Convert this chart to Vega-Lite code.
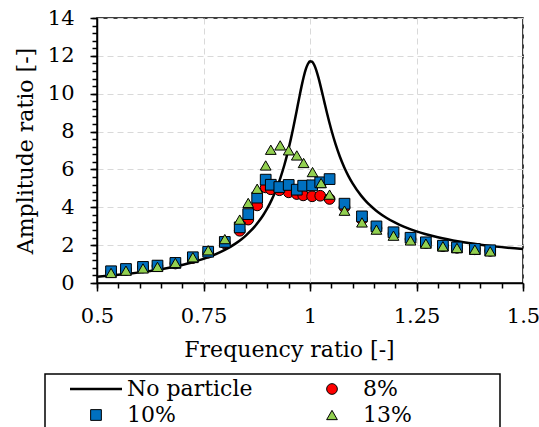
{
  "$schema": "https://vega.github.io/schema/vega-lite/v6.json",
  "width": 426,
  "height": 265,
  "autosize": {"type": "none"},
  "padding": {"left": 97, "top": 18, "right": 16, "bottom": 144},
  "background": "white",
  "config": {
    "font": "DejaVu Serif",
    "view": {"stroke": "black", "strokeWidth": 1.5},
    "axis": {
      "labelFont": "DejaVu Serif",
      "titleFont": "DejaVu Serif",
      "labelFontSize": 21,
      "titleFontSize": 22,
      "labelColor": "black",
      "titleColor": "black",
      "titleFontWeight": "normal",
      "domainColor": "black",
      "domainWidth": 1.5,
      "tickColor": "black",
      "tickWidth": 1.5,
      "gridColor": "#d9d9d9",
      "gridDash": [6, 4],
      "gridWidth": 1
    },
    "legend": {"strokeColor": "black", "strokeWidth": 1.5}
  },
  "datasets": {
    "curve": [
      {"x": 0.5, "y": 0.333}, {"x": 0.525, "y": 0.38}, {"x": 0.55, "y": 0.433}, {"x": 0.575, "y": 0.493},
      {"x": 0.6, "y": 0.561}, {"x": 0.625, "y": 0.639}, {"x": 0.65, "y": 0.728}, {"x": 0.675, "y": 0.832},
      {"x": 0.7, "y": 0.954}, {"x": 0.725, "y": 1.099}, {"x": 0.75, "y": 1.272}, {"x": 0.775, "y": 1.484},
      {"x": 0.8, "y": 1.747}, {"x": 0.825, "y": 2.081}, {"x": 0.84, "y": 2.329}, {"x": 0.85, "y": 2.518},
      {"x": 0.86, "y": 2.734}, {"x": 0.87, "y": 2.978}, {"x": 0.88, "y": 3.257}, {"x": 0.89, "y": 3.578},
      {"x": 0.9, "y": 3.952}, {"x": 0.91, "y": 4.39}, {"x": 0.92, "y": 4.906}, {"x": 0.93, "y": 5.519},
      {"x": 0.94, "y": 6.249}, {"x": 0.945, "y": 6.664}, {"x": 0.95, "y": 7.115}, {"x": 0.955, "y": 7.602},
      {"x": 0.96, "y": 8.122}, {"x": 0.965, "y": 8.676}, {"x": 0.97, "y": 9.249}, {"x": 0.975, "y": 9.82},
      {"x": 0.98, "y": 10.374}, {"x": 0.985, "y": 10.872}, {"x": 0.99, "y": 11.28}, {"x": 0.995, "y": 11.571},
      {"x": 1.0, "y": 11.71}, {"x": 1.005, "y": 11.689}, {"x": 1.01, "y": 11.52}, {"x": 1.015, "y": 11.223},
      {"x": 1.02, "y": 10.835}, {"x": 1.025, "y": 10.39}, {"x": 1.03, "y": 9.915}, {"x": 1.035, "y": 9.437},
      {"x": 1.04, "y": 8.968}, {"x": 1.045, "y": 8.519}, {"x": 1.05, "y": 8.095}, {"x": 1.06, "y": 7.334},
      {"x": 1.07, "y": 6.683}, {"x": 1.08, "y": 6.13}, {"x": 1.09, "y": 5.661}, {"x": 1.1, "y": 5.26},
      {"x": 1.12, "y": 4.615}, {"x": 1.13, "y": 4.355}, {"x": 1.14, "y": 4.125}, {"x": 1.15, "y": 3.923},
      {"x": 1.16, "y": 3.743}, {"x": 1.18, "y": 3.437}, {"x": 1.2, "y": 3.187}, {"x": 1.22, "y": 2.98},
      {"x": 1.25, "y": 2.729}, {"x": 1.27, "y": 2.591}, {"x": 1.3, "y": 2.418}, {"x": 1.35, "y": 2.194},
      {"x": 1.4, "y": 2.026}, {"x": 1.45, "y": 1.895}, {"x": 1.5, "y": 1.791}
    ],
    "pts": [
      {"series": "8%", "x": 0.533, "y": 0.58}, {"series": "8%", "x": 0.568, "y": 0.7}, {"series": "8%", "x": 0.608, "y": 0.82},
      {"series": "8%", "x": 0.642, "y": 0.9}, {"series": "8%", "x": 0.684, "y": 1.03}, {"series": "8%", "x": 0.725, "y": 1.32},
      {"series": "8%", "x": 0.761, "y": 1.6}, {"series": "8%", "x": 0.8, "y": 2.1}, {"series": "8%", "x": 0.835, "y": 2.76},
      {"series": "8%", "x": 0.855, "y": 3.35}, {"series": "8%", "x": 0.876, "y": 4.1}, {"series": "8%", "x": 0.896, "y": 5.05},
      {"series": "8%", "x": 0.908, "y": 4.95}, {"series": "8%", "x": 0.928, "y": 4.9}, {"series": "8%", "x": 0.95, "y": 4.79},
      {"series": "8%", "x": 0.969, "y": 4.7}, {"series": "8%", "x": 0.984, "y": 4.63}, {"series": "8%", "x": 1.005, "y": 4.58},
      {"series": "8%", "x": 1.024, "y": 4.61}, {"series": "8%", "x": 1.046, "y": 4.44}, {"series": "8%", "x": 1.081, "y": 4.0},
      {"series": "8%", "x": 1.122, "y": 3.36}, {"series": "8%", "x": 1.156, "y": 2.9}, {"series": "8%", "x": 1.196, "y": 2.6},
      {"series": "8%", "x": 1.236, "y": 2.32}, {"series": "8%", "x": 1.272, "y": 2.12}, {"series": "8%", "x": 1.312, "y": 1.95},
      {"series": "8%", "x": 1.345, "y": 1.86}, {"series": "8%", "x": 1.387, "y": 1.78}, {"series": "8%", "x": 1.423, "y": 1.7},
      {"series": "10%", "x": 0.533, "y": 0.62}, {"series": "10%", "x": 0.568, "y": 0.74}, {"series": "10%", "x": 0.608, "y": 0.85},
      {"series": "10%", "x": 0.642, "y": 0.92}, {"series": "10%", "x": 0.684, "y": 1.06}, {"series": "10%", "x": 0.725, "y": 1.36},
      {"series": "10%", "x": 0.761, "y": 1.65}, {"series": "10%", "x": 0.8, "y": 2.17}, {"series": "10%", "x": 0.835, "y": 2.94},
      {"series": "10%", "x": 0.855, "y": 3.64}, {"series": "10%", "x": 0.876, "y": 4.51}, {"series": "10%", "x": 0.896, "y": 5.46},
      {"series": "10%", "x": 0.908, "y": 5.19}, {"series": "10%", "x": 0.928, "y": 5.07}, {"series": "10%", "x": 0.95, "y": 5.18},
      {"series": "10%", "x": 0.969, "y": 4.93}, {"series": "10%", "x": 0.984, "y": 5.14}, {"series": "10%", "x": 1.005, "y": 5.16},
      {"series": "10%", "x": 1.024, "y": 5.32}, {"series": "10%", "x": 1.046, "y": 5.49}, {"series": "10%", "x": 1.081, "y": 4.19},
      {"series": "10%", "x": 1.122, "y": 3.52}, {"series": "10%", "x": 1.156, "y": 2.99}, {"series": "10%", "x": 1.196, "y": 2.68},
      {"series": "10%", "x": 1.236, "y": 2.39}, {"series": "10%", "x": 1.272, "y": 2.15}, {"series": "10%", "x": 1.312, "y": 1.97},
      {"series": "10%", "x": 1.345, "y": 1.88}, {"series": "10%", "x": 1.387, "y": 1.8}, {"series": "10%", "x": 1.423, "y": 1.73},
      {"series": "13%", "x": 0.533, "y": 0.53}, {"series": "13%", "x": 0.568, "y": 0.65}, {"series": "13%", "x": 0.608, "y": 0.77},
      {"series": "13%", "x": 0.642, "y": 0.85}, {"series": "13%", "x": 0.684, "y": 1.06}, {"series": "13%", "x": 0.725, "y": 1.36},
      {"series": "13%", "x": 0.761, "y": 1.73}, {"series": "13%", "x": 0.8, "y": 2.32}, {"series": "13%", "x": 0.835, "y": 3.35},
      {"series": "13%", "x": 0.855, "y": 4.23}, {"series": "13%", "x": 0.876, "y": 4.98}, {"series": "13%", "x": 0.896, "y": 6.21},
      {"series": "13%", "x": 0.908, "y": 7.04}, {"series": "13%", "x": 0.93, "y": 7.27}, {"series": "13%", "x": 0.95, "y": 7.01},
      {"series": "13%", "x": 0.969, "y": 6.74}, {"series": "13%", "x": 0.985, "y": 6.34}, {"series": "13%", "x": 1.006, "y": 5.86},
      {"series": "13%", "x": 1.026, "y": 5.28}, {"series": "13%", "x": 1.046, "y": 4.67}, {"series": "13%", "x": 1.081, "y": 3.82},
      {"series": "13%", "x": 1.122, "y": 3.2}, {"series": "13%", "x": 1.156, "y": 2.82}, {"series": "13%", "x": 1.196, "y": 2.5},
      {"series": "13%", "x": 1.236, "y": 2.25}, {"series": "13%", "x": 1.272, "y": 2.08}, {"series": "13%", "x": 1.312, "y": 1.94},
      {"series": "13%", "x": 1.345, "y": 1.85}, {"series": "13%", "x": 1.387, "y": 1.76}, {"series": "13%", "x": 1.423, "y": 1.67}
    ]
  },
  "layer": [
    {
      "data": {"name": "curve"},
      "mark": {"type": "line", "color": "black", "strokeWidth": 2.5, "interpolate": "monotone"},
      "encoding": {
        "x": {
          "field": "x", "type": "quantitative",
          "scale": {"domain": [0.5, 1.5], "nice": false, "zero": false},
          "axis": {
            "orient": "bottom",
            "values": [0.5, 0.75, 1, 1.25, 1.5],
            "labelExpr": "'' + datum.value",
            "title": "Frequency ratio [-]",
            "tickSize": 8,
            "labelPadding": 14,
            "titlePadding": 13,
            "titleX": 192,
            "grid": true,
            "labelFlush": false,
            "labelOverlap": false
          }
        },
        "y": {
          "field": "y", "type": "quantitative",
          "scale": {"domain": [0, 14], "nice": false},
          "axis": {
            "orient": "left",
            "values": [0, 2, 4, 6, 8, 10, 12, 14],
            "title": "Amplitude ratio [-]",
            "tickSize": 7,
            "labelPadding": 16,
            "titlePadding": 10,
            "grid": true,
            "labelOverlap": false
          }
        }
      }
    },
    {
      "data": {"name": "pts"},
      "mark": {"type": "point", "filled": true, "stroke": "black", "strokeWidth": 1, "size": 115, "opacity": 1},
      "encoding": {
        "x": {
          "field": "x", "type": "quantitative",
          "scale": {"domain": [0.5, 1.5], "nice": false, "zero": false},
          "axis": {
            "orient": "bottom",
            "values": [0.5, 0.55, 0.6, 0.65, 0.7, 0.75, 0.8, 0.85, 0.9, 0.95, 1, 1.05, 1.1, 1.15, 1.2, 1.25, 1.3, 1.35, 1.4, 1.45, 1.5],
            "labels": false, "title": null, "grid": false, "domain": false, "tickSize": 5
          }
        },
        "y": {
          "field": "y", "type": "quantitative",
          "scale": {"domain": [0, 14], "nice": false},
          "axis": {
            "orient": "left",
            "values": [0, 0.4, 0.8, 1.2, 1.6, 2, 2.4, 2.8, 3.2, 3.6, 4, 4.4, 4.8, 5.2, 5.6, 6, 6.4, 6.8, 7.2, 7.6, 8, 8.4, 8.8, 9.2, 9.6, 10, 10.4, 10.8, 11.2, 11.6, 12, 12.4, 12.8, 13.2, 13.6, 14],
            "labels": false, "title": null, "grid": false, "domain": false, "tickSize": 5
          }
        },
        "shape": {
          "field": "series", "type": "nominal",
          "scale": {"domain": ["No particle", "8%", "10%", "13%"], "range": ["stroke", "circle", "square", "triangle-up"]},
          "legend": {
            "orient": "none",
            "direction": "horizontal",
            "legendX": -52,
            "legendY": 356,
            "columns": 2,
            "columnPadding": 68,
            "rowPadding": 4,
            "padding": 4,
            "strokeColor": "black",
            "title": " ",
            "titleOrient": "left",
            "titlePadding": 36,
            "titleFontSize": 22,
            "titleFont": "DejaVu Serif",
            "labelFont": "DejaVu Serif",
            "labelFontSize": 22,
            "labelColor": "black",
            "labelOffset": 20,
            "labelLimit": 400,
            "symbolStrokeColor": "black",
            "symbolStrokeWidth": 1,
            "symbolOpacity": 1,
            "labelExpr": "datum.value === '8%' || datum.value === '13%' ? datum.label + '            \u200b' : datum.label",
            "encode": {
              "symbols": {
                "update": {
                  "size": {"signal": "datum.value === 'No particle' ? 2704 : 115"},
                  "strokeWidth": {"signal": "datum.value === 'No particle' ? 2.5 : 1"}
                }
              }
            }
          }
        },
        "fill": {
          "field": "series", "type": "nominal",
          "scale": {"domain": ["No particle", "8%", "10%", "13%"], "range": ["black", "#FF0000", "#0070C0", "#92D050"]},
          "legend": {
            "orient": "none",
            "direction": "horizontal",
            "legendX": -52,
            "legendY": 356,
            "columns": 2,
            "columnPadding": 68,
            "rowPadding": 4,
            "padding": 4,
            "strokeColor": "black",
            "title": " ",
            "titleOrient": "left",
            "titlePadding": 36,
            "titleFontSize": 22,
            "titleFont": "DejaVu Serif",
            "labelFont": "DejaVu Serif",
            "labelFontSize": 22,
            "labelColor": "black",
            "labelOffset": 20,
            "labelLimit": 400,
            "symbolStrokeColor": "black",
            "symbolStrokeWidth": 1,
            "symbolOpacity": 1,
            "labelExpr": "datum.value === '8%' || datum.value === '13%' ? datum.label + '            \u200b' : datum.label",
            "encode": {
              "symbols": {
                "update": {
                  "size": {"signal": "datum.value === 'No particle' ? 2704 : 115"},
                  "strokeWidth": {"signal": "datum.value === 'No particle' ? 2.5 : 1"}
                }
              }
            }
          }
        }
      }
    }
  ],
  "resolve": {"axis": {"x": "independent", "y": "independent"}}
}
